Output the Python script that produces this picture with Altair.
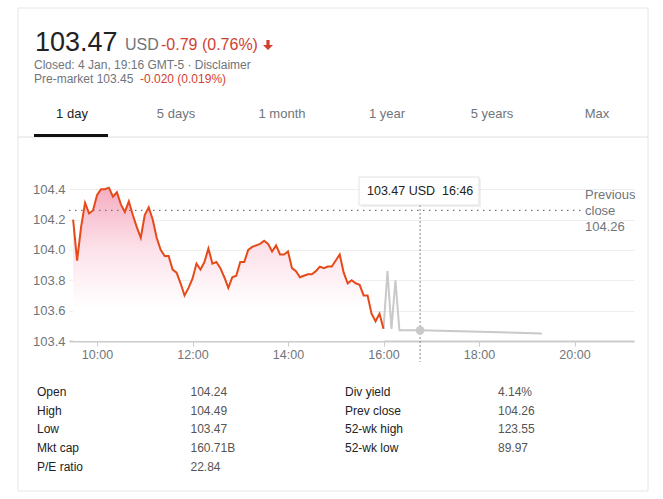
import altair as alt
import pandas as pd

# ---------------- data ----------------
times_regular = [
    "09:30", "09:35", "09:40", "09:45", "09:50", "09:55",
    "10:00", "10:05", "10:10", "10:15", "10:20", "10:25", "10:30", "10:35", "10:40", "10:45", "10:50", "10:55",
    "11:00", "11:05", "11:10", "11:15", "11:20", "11:25", "11:30", "11:35", "11:40", "11:45", "11:50", "11:55",
    "12:00", "12:05", "12:10", "12:15", "12:20", "12:25", "12:30", "12:35", "12:40", "12:45", "12:50", "12:55",
    "13:00", "13:05", "13:10", "13:15", "13:20", "13:25", "13:30", "13:35", "13:40", "13:45", "13:50", "13:55",
    "14:00", "14:05", "14:10", "14:15", "14:20", "14:25", "14:30", "14:35", "14:40", "14:45", "14:50", "14:55",
    "15:00", "15:05", "15:10", "15:15", "15:20", "15:25", "15:30", "15:35", "15:40", "15:45", "15:50", "15:55",
    "16:00",
]
prices_regular = [
    104.20, 103.93, 104.15, 104.31, 104.24, 104.26,
    104.36, 104.40, 104.40, 104.41, 104.35, 104.38, 104.30, 104.25, 104.32, 104.23, 104.15, 104.08,
    104.23, 104.28, 104.20, 104.08, 104.00, 103.96, 103.96, 103.87, 103.85, 103.78, 103.70, 103.75,
    103.81, 103.91, 103.87, 103.92, 104.01, 103.91, 103.92, 103.88, 103.82, 103.75, 103.82, 103.83,
    103.92, 103.92, 104.00, 104.02, 104.03, 104.04, 104.06, 104.04, 103.99, 104.03, 103.97, 103.97,
    103.99, 103.88, 103.86, 103.82, 103.83, 103.84, 103.84, 103.86, 103.89, 103.88, 103.89, 103.89,
    103.93, 103.97, 103.85, 103.78, 103.80, 103.78, 103.77, 103.70, 103.70, 103.58, 103.53, 103.58,
    103.48,
]
times_after = ["16:00", "16:05", "16:10", "16:15", "16:20", "16:46", "19:19"]
prices_after = [103.48, 103.86, 103.48, 103.80, 103.47, 103.47, 103.45]

hover_time = "16:46"
hover_price = 103.47
prev_close = 104.26

y_ticks = [103.4, 103.6, 103.8, 104.0, 104.2, 104.4]
x_ticks = [10, 12, 14, 16, 18, 20]

price_text = "103.47"
currency_text = "USD"
change_text = "-0.79 (0.76%)"
closed_text = "Closed: 4 Jan, 19:16 GMT-5 \u00b7 Disclaimer"
premarket_text = "Pre-market 103.45"
premarket_change_text = "-0.020 (0.019%)"
tooltip_text = "103.47 USD\u00a0 16:46"
prev_close_lines = ["Previous", "close", "104.26"]

tab_labels = ["1 day", "5 days", "1 month", "1 year", "5 years", "Max"]

stat_names_left = ["Open", "High", "Low", "Mkt cap", "P/E ratio"]
stat_vals_left = ["104.24", "104.49", "103.47", "160.71B", "22.84"]
stat_names_right = ["Div yield", "Prev close", "52-wk high", "52-wk low"]
stat_vals_right = ["4.14%", "104.26", "123.55", "89.97"]


def to_hours(t):
    h, m = t.split(":")
    return int(h) + int(m) / 60.0


df_reg = pd.DataFrame({"time": times_regular, "price": prices_regular})
df_reg["h"] = df_reg["time"].map(to_hours)
df_after = pd.DataFrame({"time": times_after, "price": prices_after})
df_after["h"] = df_after["time"].map(to_hours)
df_hover = pd.DataFrame({"time": [hover_time], "price": [hover_price]})
df_hover["h"] = df_hover["time"].map(to_hours)

# ---------------- layout ----------------
W, H = 663, 499
PL, PT = 69, 174          # plot area origin on page
PW, PH = 565, 167         # plot area size
FONT = "Liberation Sans"
GRAY = "#70757a"
RED = "#d23f31"
LINE_RED = "#e64a19"

x_scale = alt.Scale(domain=[9.4136, 9.4136 + PW / 47.75], nice=False, zero=False)
y_scale = alt.Scale(domain=[103.4, 104.5], nice=False, zero=False)

x_axis = alt.Axis(values=x_ticks, tickCount=len(x_ticks), labelExpr="datum.value + ':00'", grid=False,
                  domainColor="#cccccc", domainWidth=2, tickColor="#cccccc", tickSize=5,
                  labelColor=GRAY, labelFontSize=12.5, labelFont=FONT, labelPadding=2, title=None,
                  labelOverlap=False)
y_axis = alt.Axis(values=y_ticks, tickCount=len(y_ticks), format=".1f", grid=True, gridColor="#eeeeee",
                  domain=False, ticks=False, labelPadding=4, labelColor=GRAY, labelFontSize=13,
                  labelFont=FONT, title=None, labelOverlap=False)


def one(s="x"):
    return pd.DataFrame({"t": [s]})


def txt(s, x, y, size=12, color="#222222", align="left", baseline="alphabetic", weight="normal"):
    return alt.Chart(one(s)).mark_text(
        align=align, baseline=baseline, fontSize=size, color=color, fontWeight=weight, font=FONT
    ).encode(x=alt.value(x - PL), y=alt.value(y - PT), text="t:N")


def box(x0, y0, x1, y1, fill="white", stroke="#e0e0e0", opacity=1.0, fill_opacity=1.0, sw=1):
    return alt.Chart(one()).mark_rect(fill=fill, stroke=stroke, strokeWidth=sw, opacity=opacity,
                                      fillOpacity=fill_opacity).encode(
        x=alt.value(x0 - PL), x2=alt.value(x1 - PL), y=alt.value(y0 - PT), y2=alt.value(y1 - PT))


def hline(x0, x1, y, color, width=1):
    return alt.Chart(one()).mark_rule(color=color, strokeWidth=width).encode(
        x=alt.value(x0 - PL), x2=alt.value(x1 - PL), y=alt.value(y - PT))


layers = []

# chart: area first so the axes stay visible
gradient = alt.Gradient(
    gradient="linear",
    stops=[alt.GradientStop(color="#f5adc1", offset=0),
           alt.GradientStop(color="#fce2ea", offset=0.4),
           alt.GradientStop(color="#ffffff", offset=0.78)],
    x1=1, x2=1, y1=0, y2=1,
)
area = alt.Chart(df_reg).mark_area(color=gradient).encode(
    x=alt.X("h:Q", scale=x_scale, axis=x_axis),
    y=alt.Y("price:Q", scale=y_scale, axis=y_axis),
    y2=alt.datum(103.4),
)
layers.append(area)

# card outline (no fill)
layers.append(box(18, 8, 648, 491, fill="white", stroke="#e6e6e6", fill_opacity=0))

# header
layers.append(txt(price_text, 35, 51, size=27, color="#222222"))
layers.append(txt(currency_text, 125, 50, size=16, color=GRAY))
layers.append(txt(change_text, 161, 50, size=16, color=RED))
arrow_path = "M-0.32,-1 L0.32,-1 L0.32,0 L1,0 L0,1 L-1,0 L-0.32,0 Z"
layers.append(alt.Chart(one()).mark_point(shape=arrow_path, filled=True, color=RED, size=100, opacity=1).encode(
    x=alt.value(268 - PL), y=alt.value(45 - PT)))
layers.append(txt(closed_text, 34, 68.5, size=12, color=GRAY))
layers.append(txt(premarket_text, 34, 82.5, size=12, color=GRAY))
layers.append(txt(premarket_change_text, 140, 82.5, size=12, color=RED))

# tabs
tab_centers = [72, 176, 282, 387, 492, 597]
for i, lab in enumerate(tab_labels):
    layers.append(txt(lab, tab_centers[i], 114, size=13, color="#222222" if i == 0 else GRAY,
                      align="center", baseline="middle"))
layers.append(hline(18, 648, 137, "#e0e0e0", 1))
layers.append(hline(34, 108, 135.5, "#111111", 3))

prev_rule = alt.Chart(one()).mark_rule(color="#777777", strokeDash=[1.5, 4.5], strokeWidth=1.3).encode(
    y=alt.datum(prev_close), x=alt.value(0), x2=alt.value(583 - PL))
layers.append(prev_rule)

hover_rule = alt.Chart(df_hover).mark_rule(color="#888888", strokeDash=[2, 2], strokeWidth=1).encode(
    x=alt.X("h:Q", scale=x_scale), y=alt.value(205 - PT), y2=alt.value(362 - PT))
layers.append(hover_rule)

line_reg = alt.Chart(df_reg).mark_line(color=LINE_RED, strokeWidth=2).encode(
    x=alt.X("h:Q", scale=x_scale), y=alt.Y("price:Q", scale=y_scale))
line_after = alt.Chart(df_after).mark_line(color="#c9c9c9", strokeWidth=2).encode(
    x=alt.X("h:Q", scale=x_scale), y=alt.Y("price:Q", scale=y_scale))
layers += [line_after, line_reg]

hover_pt = alt.Chart(df_hover).mark_point(filled=True, size=75, color="#c9c9c9", opacity=1).encode(
    x=alt.X("h:Q", scale=x_scale), y=alt.Y("price:Q", scale=y_scale))
layers.append(hover_pt)

# tooltip box
layers.append(box(361, 179, 481, 207, fill="#000000", stroke=None, opacity=0.06))
layers.append(box(359, 177, 479, 205, fill="white", stroke="#e2e2e2"))
layers.append(txt(tooltip_text, 367, 191, size=12.5, color="#222222", baseline="middle"))

# previous close label
for i, s in enumerate(prev_close_lines):
    layers.append(txt(s, 585, 195 + 16 * i, size=13, color=GRAY, baseline="middle"))

# stats table
row_y = [392, 410.7, 429.4, 448.1, 466.8]
for i, (n, v) in enumerate(zip(stat_names_left, stat_vals_left)):
    layers.append(txt(n, 37, row_y[i], size=12, color="#222222", baseline="middle"))
    layers.append(txt(v, 190.5, row_y[i], size=12, color="#555555", baseline="middle"))
for i, (n, v) in enumerate(zip(stat_names_right, stat_vals_right)):
    layers.append(txt(n, 345, row_y[i], size=12, color="#222222", baseline="middle"))
    layers.append(txt(v, 498, row_y[i], size=12, color="#555555", baseline="middle"))

chart = alt.layer(*layers).properties(
    width=PW, height=PH,
    autosize=alt.AutoSizeParams(type="none"),
    padding={"left": PL, "top": PT, "right": W - PL - PW, "bottom": H - PT - PH},
    background="white",
).configure(font=FONT).configure_view(stroke=None, strokeWidth=0)

chart.save("out.html", embed_options={"renderer": "svg", "actions": False})
